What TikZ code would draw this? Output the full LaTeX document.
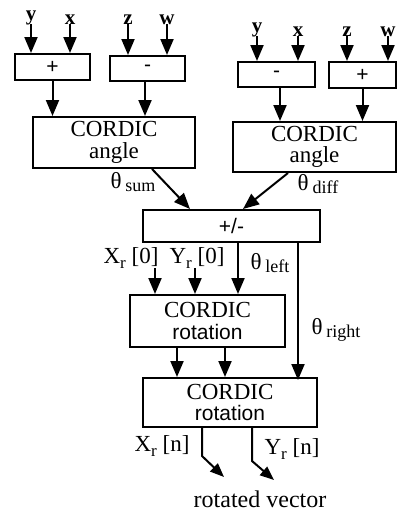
\documentclass[tikz,border=0pt]{standalone}
\usepackage{fontspec}
\setmainfont{Liberation Serif}
\setsansfont{Liberation Sans}
\usetikzlibrary{arrows.meta,calc}
\tikzset{
  box/.style={draw, line width=2pt, inner sep=0pt, align=center},
  arr/.style={line width=2pt, -{Triangle[length=16pt,width=13pt]}},
  sarr/.style={line width=2pt, -{Triangle[length=14pt,width=11pt]}},
  lab/.style={inner sep=0pt, font=\fontsize{23}{24}\selectfont},
  inl/.style={inner sep=0pt, font=\bfseries\fontsize{21}{22}\selectfont},
  sgn/.style={font=\sffamily\fontsize{21}{21}\selectfont},
  btxt/.style={font=\fontsize{23}{21.5}\selectfont},
}
\newcommand{\sbs}[1]{\raisebox{-0.35ex}{\fontsize{18}{18}\selectfont #1}}
\newcommand{\rsub}{\raisebox{-0.45ex}{\fontsize{17}{17}\selectfont r}}
\begin{document}
\begin{tikzpicture}[x=1pt,y=-1pt]
\useasboundingbox (0,0) rectangle (398,514);
% boxes
\node[box, minimum width=75pt, minimum height=26pt, sgn] (plusL) at (52.5,67) {+};
\node[box, minimum width=75pt, minimum height=25pt, sgn] (minusL) at (147.5,68.5) {-};
\node[box, minimum width=162pt, minimum height=51pt, btxt] (angL) at (114,142.5) {CORDIC\\angle};
\node[box, minimum width=77pt, minimum height=25pt, sgn] (minusR) at (276.5,74.5) {-};
\node[box, minimum width=67pt, minimum height=26pt, sgn] (plusR) at (362.5,75) {+};
\node[box, minimum width=163pt, minimum height=50pt, btxt] (angR) at (314.5,147) {CORDIC\\angle};
\node[box, minimum width=177pt, minimum height=32pt, sgn] (pm) at (231.5,226) {+/-};
\node[box, minimum width=155pt, minimum height=52pt, btxt] (rot1) at (207.5,321) {CORDIC\\{\sffamily\fontsize{21}{20}\selectfont rotation}};
\node[box, minimum width=174pt, minimum height=49pt, btxt] (rot2) at (230,402.5) {CORDIC\\{\sffamily\fontsize{21}{20}\selectfont rotation}};
% input labels
\node[inl, anchor=south] (yL) at (31,25) {y};
\node[inl, anchor=south] (xL) at (70,25) {x};
\node[inl, anchor=south] (zL) at (128,25) {z};
\node[inl, anchor=south] (wL) at (167,25) {w};
\node[inl, anchor=south] (yR) at (257,37) {y};
\node[inl, anchor=south] (xR) at (298,37) {x};
\node[inl, anchor=south] (zR) at (347,37) {z};
\node[inl, anchor=south] (wR) at (388,37) {w};
\foreach \l/\b in {yL/plusL,xL/plusL,zL/minusL,wL/minusL,yR/minusR,xR/minusR,zR/plusR,wR/plusR}
  \draw[arr] ([yshift=1pt]\l.south) -- (\l.south |- \b.north);
% box to box
\draw[arr] (plusL.south) -- (plusL.south |- angL.north);
\draw[arr] ([xshift=-2.5pt]minusL.south) -- ([xshift=-2.5pt]minusL.south |- angL.north);
\draw[arr] ([xshift=3.5pt]minusR.south) -- ([xshift=3.5pt]minusR.south |- angR.north);
\draw[arr] (plusR.south) -- (plusR.south |- angR.north);
\draw[arr] ([xshift=38pt]angL.south) -- ([xshift=-41.5pt]pm.north);
\draw[arr] ([xshift=-26.5pt]angR.south) -- ([xshift=11.5pt]pm.north);
% labels theta
\node[lab] (tsum) at (133,182) {θ\,\sbs{sum}};
\node[lab] (tdiff) at (318,184) {θ\,\sbs{diff}};
\node[lab] (x0) at (131,258) {X\rsub{} [0]};
\node[lab] (y0) at (197,258) {Y\rsub{} [0]};
\node[lab] (tleft) at (270,263) {θ\,\sbs{left}};
\node[lab] (tright) at (336,330) {θ\,\sbs{right}};
\coordinate (x0s) at (155,268);
\coordinate (y0s) at (195,268);
\draw[arr] (x0s) -- (x0s |- rot1.north);
\draw[arr] (y0s) -- (y0s |- rot1.north);
\draw[arr] ([xshift=6.5pt]pm.south) -- ([xshift=6.5pt]pm.south |- rot1.north);
\draw[arr] ([xshift=66.5pt]pm.south) -- ([xshift=66.5pt,yshift=-3pt]pm.south |- rot2.north);
\draw[arr] ([xshift=-30.5pt]rot1.south) -- ([xshift=-30.5pt]rot1.south |- rot2.north);
\draw[arr] ([xshift=17.5pt]rot1.south) -- ([xshift=17.5pt]rot1.south |- rot2.north);
% outputs
\node[lab] (xn) at (162,446) {X\rsub{} [n]};
\node[lab] (yn) at (292,449) {Y\rsub{} [n]};
\node[lab, font=\fontsize{24}{24}\selectfont] (rv) at (260,499) {rotated vector};
\coordinate (o1) at (224,477);
\coordinate (o2) at (274,480);
\draw[sarr] ([xshift=-28pt]rot2.south) -- ++(0,28) -- (o1);
\draw[sarr] ([xshift=22pt]rot2.south) -- ++(0,33) -- (o2);
\end{tikzpicture}
\end{document}
